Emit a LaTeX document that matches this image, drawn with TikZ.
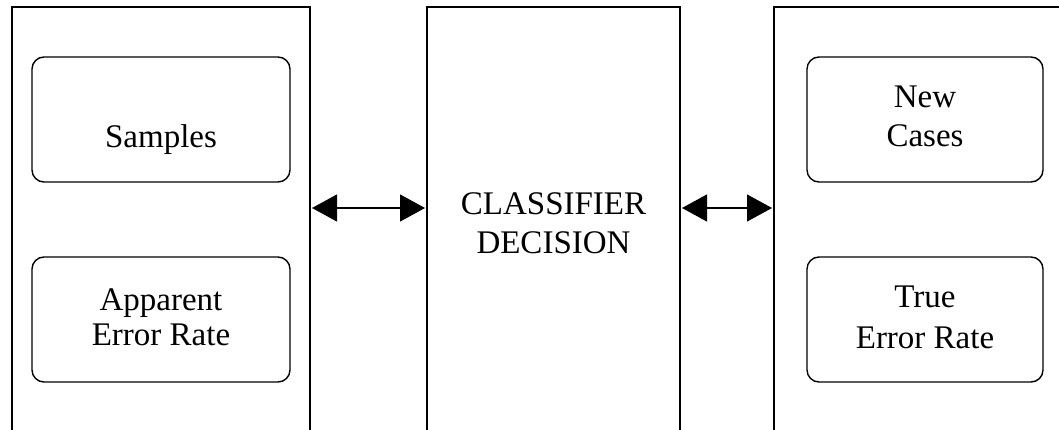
\documentclass[tikz,border=0pt]{standalone}
\usepackage{fontspec}
\setmainfont{Liberation Serif}
\usetikzlibrary{arrows.meta}
\begin{document}
\begin{tikzpicture}[x=1pt,y=-1pt,
  panel/.style={draw=black,line width=2pt,minimum width=#1,inner sep=0pt},
  rbox/.style={draw=black,line width=1.4pt,rounded corners=12pt,inner sep=0pt,minimum height=125pt},
  lbl/.style={anchor=base,inner sep=0pt,font=\fontsize{33}{38}\selectfont},
  link/.style={line width=1.2pt,{Triangle[length=25pt,width=27pt]}-{Triangle[length=25pt,width=27pt]}}]
\useasboundingbox (0,0) rectangle (1059,430);
\clip (0,0) rectangle (1059,430);
\fill[white] (0,0) rectangle (1059,430);

% three tall panels running past the lower edge
\node[panel=298pt,minimum height=600pt] (left) at (161,307) {};
\node[panel=253pt,minimum height=600pt] (mid) at (553.5,307) {};
\node[panel=330pt,minimum height=600pt] (right) at (939,307) {};

% rounded boxes inside the outer panels
\node[rbox,minimum width=258pt] (samples) at (161,119.5) {};
\node[rbox,minimum width=258pt] (apparent) at (161,319.5) {};
\node[rbox,minimum width=236pt] (newcases) at (925,119.5) {};
\node[rbox,minimum width=236pt] (trueerr) at (925,319.5) {};

% labels
\node[lbl] (tSamples) at (161,148) {Samples};
\node[lbl] (tApp1) at (161,310) {Apparent};
\node[lbl] (tApp2) at (161,345) {Error Rate};
\node[lbl] (tNew1) at (925,108) {New};
\node[lbl] (tNew2) at (925,147) {Cases};
\node[lbl] (tTrue1) at (925,307) {True};
\node[lbl] (tTrue2) at (925,348) {Error Rate};
\node[lbl] (tCls1) at (553.5,215) {CLASSIFIER};
\node[lbl] (tCls2) at (553.5,253) {DECISION};

% two-way links between the panels
\coordinate (ay) at (0,208);
\draw[link] ([xshift=1pt]left.east |- ay) -- ([xshift=-1pt]mid.west |- ay);
\draw[link] ([xshift=1pt]mid.east |- ay) -- ([xshift=-1pt]right.west |- ay);
\end{tikzpicture}
\end{document}
